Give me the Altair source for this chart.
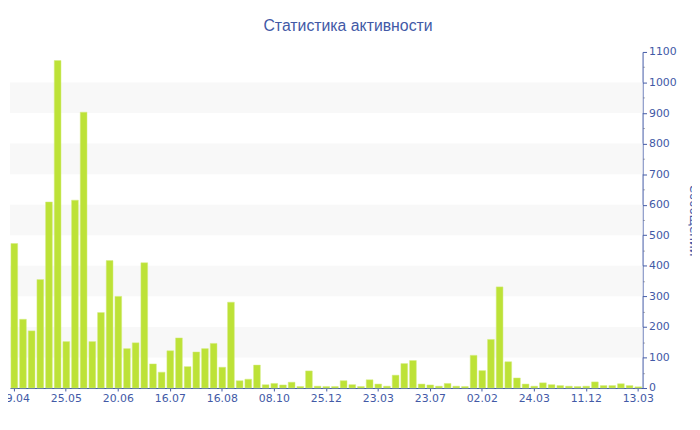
import altair as alt
import pandas as pd

tick_labels = ["29.04", "25.05", "20.06", "16.07", "16.08", "08.10", "25.12",
               "23.03", "23.07", "02.02", "24.03", "11.12", "13.03"]

values = [473, 225, 187, 355, 609, 1072, 152, 615, 903, 152,
          247, 417, 300, 129, 148, 410, 79, 52, 122, 164,
          70, 118, 129, 146, 68, 281, 24, 29, 75, 11,
          15, 10, 19, 5, 56, 6, 5, 5, 24, 11,
          5, 27, 13, 6, 42, 80, 90, 13, 10, 6,
          15, 6, 5, 107, 57, 159, 331, 86, 33, 13,
          6, 17, 11, 8, 6, 5, 6, 20, 8, 8,
          14, 8, 4]

band_lo = [100, 300, 500, 700, 900]
band_hi = [200, 400, 600, 800, 1000]

BLUE = "#4259a6"
FONT = "DejaVu Sans"

df = pd.DataFrame({"i": list(range(len(values))), "v": values})
bands = pd.DataFrame({"lo": band_lo, "hi": band_hi})

label_arr = "[" + ",".join("'" + t + "'" for t in tick_labels) + "]"

y_scale = alt.Scale(domain=[0, 1100], nice=False)
y_axis = alt.Axis(
    orient="right",
    values=list(range(0, 1101, 50)),
    format="d",
    labelExpr="datum.value % 100 ? '' : datum.label",
    title="Сообщений",
    grid=False,
    domainColor=BLUE,
    tickColor={"condition": {"test": "datum.value % 100 !== 0", "value": "#b0b0b0"}, "value": BLUE},
    tickSize={"condition": {"test": "datum.value % 100 !== 0", "value": 2}, "value": 4},
    labelColor=BLUE,
    labelFont=FONT,
    labelFontSize=11,
    labelPadding=2,
    titleColor=BLUE,
    titleFont=FONT,
    titleFontSize=12,
    titleFontWeight="normal",
    titlePadding=10,
)

band_layer = alt.Chart(bands).mark_rect(color="#f8f8f8", strokeWidth=0).encode(
    x=alt.value(0),
    x2=alt.value("width"),
    y=alt.Y("lo:Q", scale=y_scale, axis=y_axis),
    y2="hi:Q",
)

bar_layer = alt.Chart(df).mark_bar(color="#bde237", stroke="#d4ec80", strokeWidth=0.5).encode(
    x=alt.X(
        "i:O",
        scale=alt.Scale(paddingInner=0.22, paddingOuter=0.11),
        axis=alt.Axis(
            values=list(range(0, 73, 6)),
            labelExpr=label_arr + "[datum.value / 6]",
            labelAngle=0,
            title=None,
            grid=False,
            domainColor=BLUE,
            tickColor=BLUE,
            tickSize=3,
            labelColor=BLUE,
            labelFont=FONT,
            labelFontSize=11,
            labelPadding=2,
        ),
    ),
    y=alt.Y("v:Q", scale=y_scale, axis=y_axis),
)

chart = alt.layer(band_layer, bar_layer).properties(
    width=640,
    height=340,
    background="white",
    autosize=alt.AutoSizeParams(type="none"),
    padding={"left": 2, "top": 42, "right": 50, "bottom": 40},
    title=alt.TitleParams(
        "Статистика активности",
        font="Liberation Sans",
        fontSize=16,
        fontWeight="normal",
        color=BLUE,
        anchor="middle",
        baseline="bottom",
        offset=13,
        dy=17,
        dx=22,
    ),
).configure_view(stroke=None)

chart.save("out.html", embed_options={"renderer": "svg", "actions": False})
